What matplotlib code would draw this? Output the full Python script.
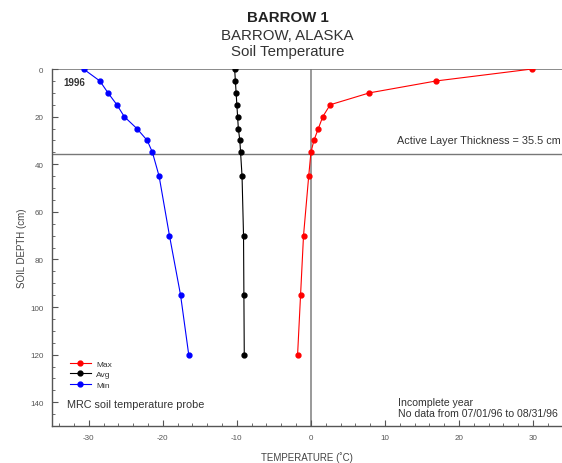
import matplotlib
matplotlib.use("Agg")
import matplotlib.pyplot as plt
from matplotlib.ticker import MultipleLocator

plt.rcParams['font.family'] = ['Liberation Sans', 'DejaVu Sans']
plt.rcParams['axes.unicode_minus'] = False

# soil temperature profile, Barrow 1, 1996
depth = [0, 5, 10, 15, 20, 25, 30, 35, 45, 70, 95, 120]
t_max = [29.8, 16.9, 7.9, 2.6, 1.6, 1.0, 0.4, 0.0, -0.3, -1.0, -1.4, -1.8]
t_avg = [-10.3, -10.2, -10.1, -10.0, -9.9, -9.8, -9.6, -9.5, -9.3, -9.1, -9.05, -9.0]
t_min = [-30.7, -28.5, -27.4, -26.2, -25.2, -23.5, -22.1, -21.4, -20.5, -19.1, -17.6, -16.5]
active_layer = 35.5

fig = plt.figure(figsize=(5.62, 4.64), dpi=100)
ax = fig.add_axes([0.092, 0.0797, 0.908, 0.7693])

ax.axvline(0, color='#999999', lw=1.4, zorder=1)
ax.axhline(active_layer, color='#777777', lw=1.0, zorder=1)
ax.axhline(0, color='#777777', lw=1.2, zorder=1)

kw = dict(marker='o', ms=3.5, lw=0.8, zorder=3)
ax.plot(t_max, depth, color='#ff0000', label='Max', **kw)
ax.plot(t_avg, depth, color='#000000', label='Avg', **kw)
ax.plot(t_min, depth, color='#0000ff', label='Min', **kw)

ax.set_xlim(-35, 33.9)
ax.set_ylim(150, 0)
ax.xaxis.set_major_locator(MultipleLocator(10))
ax.xaxis.set_minor_locator(MultipleLocator(2))
ax.yaxis.set_major_locator(MultipleLocator(20))
ax.yaxis.set_minor_locator(MultipleLocator(5))
ax.tick_params(which='both', direction='in', color='#555555', labelsize=5.8,
               labelcolor='#555555', top=False, right=False)
ax.tick_params(which='major', length=4, width=0.8, pad=6)
ax.tick_params(which='minor', length=2, width=0.6)
for s in ['top', 'right']:
    ax.spines[s].set_visible(False)
for s in ['left', 'bottom']:
    ax.spines[s].set_color('#555555')
    ax.spines[s].set_linewidth(1.0)

ax.set_xlabel('TEMPERATURE (˚C)', fontsize=7, color='#444444', labelpad=7)
ax.set_ylabel('SOIL DEPTH (cm)', fontsize=7, color='#444444', labelpad=2)

ax.text(-33.4, 5.5, '1996', fontsize=7, fontweight='bold', color='#333333',
        ha='left', va='center')
ax.text(33.7, 30, 'Active Layer Thickness = 35.5 cm', fontsize=7.8,
        color='#333333', ha='right', va='center')
ax.text(-33.0, 140.6, 'MRC soil temperature probe', fontsize=7.8,
        color='#333333', ha='left', va='center')
ax.text(11.7, 142.3, 'Incomplete year\nNo data from 07/01/96 to 08/31/96',
        fontsize=7.6, color='#333333', ha='left', va='center', linespacing=1.15)

ax.legend(loc='upper left', bbox_to_anchor=(0.027, 0.196), frameon=False,
          fontsize=6, handlelength=2.6, handletextpad=0.6, labelspacing=0.3,
          borderpad=0, labelcolor='#333333')

fig.text(0.512, 0.961, 'BARROW 1', fontsize=10.8, fontweight='bold',
         color='#222222', ha='center', va='center')
fig.text(0.512, 0.922, 'BARROW, ALASKA', fontsize=10.8, color='#333333',
         ha='center', va='center')
fig.text(0.512, 0.888, 'Soil Temperature', fontsize=10.8, color='#333333',
         ha='center', va='center')

fig.savefig('out.png', dpi=100)
